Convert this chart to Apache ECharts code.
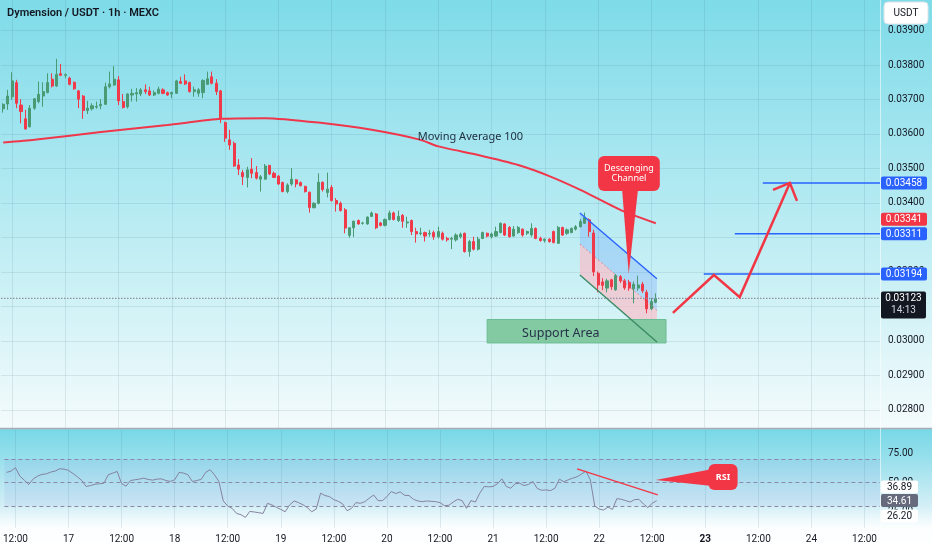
<!DOCTYPE html>
<html><head><meta charset="utf-8">
<script src="https://cdn.jsdelivr.net/npm/echarts@6/dist/echarts.min.js"></script>
<style>html,body{margin:0;padding:0;background:#fff}#c{width:932px;height:550px}</style>
</head><body><div id="c"></div>
<script>
// ---------- time categories (1h bars) ----------
const firstDay = 16, firstHour = 10, hoursShown = 198;
const categories = [];
for (let i = 0; i < hoursShown; i++) {
  const h = firstHour + i, d = firstDay + Math.floor(h / 24), hh = h % 24;
  categories.push(d + ' ' + (hh < 10 ? '0' : '') + hh + ':00');
}
// ---------- candles ----------
const opens = [0.03673,0.03687,0.03708,0.03749,0.03684,0.03644,0.03621,0.03675,0.03694,0.03710,0.03720,0.03759,0.03739,0.03775,0.03770,0.03762,0.03750,0.03725,0.03710,0.03668,0.03673,0.03678,0.03682,0.03686,0.03737,0.03742,0.03757,0.03694,0.03679,0.03713,0.03716,0.03716,0.03728,0.03725,0.03713,0.03718,0.03728,0.03720,0.03716,0.03718,0.03752,0.03754,0.03749,0.03723,0.03718,0.03720,0.03744,0.03766,0.03747,0.03725,0.03633,0.03583,0.03573,0.03510,0.03488,0.03474,0.03498,0.03488,0.03469,0.03469,0.03509,0.03486,0.03478,0.03459,0.03433,0.03455,0.03467,0.03459,0.03448,0.03431,0.03386,0.03399,0.03460,0.03430,0.03445,0.03407,0.03399,0.03380,0.03306,0.03328,0.03349,0.03341,0.03339,0.03361,0.03368,0.03342,0.03335,0.03352,0.03371,0.03349,0.03364,0.03342,0.03349,0.03317,0.03311,0.03314,0.03310,0.03314,0.03302,0.03312,0.03297,0.03295,0.03293,0.03302,0.03312,0.03259,0.03288,0.03266,0.03297,0.03312,0.03302,0.03304,0.03314,0.03339,0.03329,0.03304,0.03314,0.03324,0.03312,0.03307,0.03326,0.03297,0.03291,0.03295,0.03317,0.03283,0.03329,0.03312,0.03314,0.03324,0.03331,0.03341,0.03351,0.03313,0.03196,0.03171,0.03153,0.03177,0.03148,0.03186,0.03174,0.03170,0.03151,0.03153,0.03164,0.03141,0.03093,0.03112];
const highs = [0.03689,0.03728,0.03779,0.03757,0.03701,0.03670,0.03684,0.03704,0.03752,0.03750,0.03776,0.03776,0.03818,0.03803,0.03776,0.03766,0.03752,0.03728,0.03713,0.03696,0.03689,0.03694,0.03701,0.03749,0.03781,0.03797,0.03768,0.03716,0.03718,0.03731,0.03733,0.03733,0.03744,0.03737,0.03726,0.03737,0.03733,0.03723,0.03723,0.03757,0.03766,0.03773,0.03752,0.03737,0.03733,0.03759,0.03781,0.03781,0.03759,0.03728,0.03636,0.03612,0.03578,0.03527,0.03496,0.03505,0.03530,0.03507,0.03481,0.03513,0.03510,0.03491,0.03481,0.03462,0.03457,0.03501,0.03469,0.03462,0.03450,0.03433,0.03402,0.03486,0.03462,0.03488,0.03452,0.03414,0.03404,0.03385,0.03330,0.03349,0.03352,0.03345,0.03361,0.03375,0.03371,0.03345,0.03355,0.03378,0.03375,0.03378,0.03368,0.03360,0.03352,0.03328,0.03328,0.03317,0.03322,0.03320,0.03331,0.03317,0.03302,0.03302,0.03312,0.03314,0.03314,0.03293,0.03302,0.03302,0.03317,0.03314,0.03314,0.03331,0.03343,0.03341,0.03333,0.03333,0.03333,0.03326,0.03320,0.03341,0.03329,0.03302,0.03297,0.03297,0.03320,0.03333,0.03331,0.03326,0.03329,0.03336,0.03353,0.03372,0.03355,0.03322,0.03201,0.03182,0.03180,0.03180,0.03194,0.03191,0.03180,0.03177,0.03172,0.03189,0.03171,0.03148,0.03124,0.03138];
const lows = [0.03662,0.03670,0.03699,0.03675,0.03631,0.03612,0.03619,0.03670,0.03689,0.03679,0.03718,0.03735,0.03737,0.03768,0.03762,0.03741,0.03728,0.03675,0.03644,0.03658,0.03668,0.03673,0.03672,0.03684,0.03732,0.03740,0.03684,0.03674,0.03674,0.03694,0.03694,0.03710,0.03716,0.03710,0.03710,0.03715,0.03715,0.03710,0.03704,0.03716,0.03745,0.03742,0.03720,0.03708,0.03708,0.03704,0.03742,0.03744,0.03713,0.03632,0.03577,0.03554,0.03505,0.03481,0.03452,0.03445,0.03472,0.03468,0.03433,0.03468,0.03481,0.03472,0.03452,0.03431,0.03428,0.03450,0.03445,0.03448,0.03430,0.03372,0.03385,0.03396,0.03433,0.03416,0.03404,0.03375,0.03375,0.03312,0.03299,0.03301,0.03337,0.03337,0.03337,0.03359,0.03324,0.03332,0.03332,0.03349,0.03349,0.03345,0.03328,0.03328,0.03307,0.03285,0.03306,0.03288,0.03302,0.03293,0.03297,0.03291,0.03288,0.03266,0.03288,0.03297,0.03256,0.03244,0.03262,0.03262,0.03295,0.03300,0.03297,0.03302,0.03312,0.03304,0.03300,0.03302,0.03310,0.03302,0.03307,0.03302,0.03295,0.03288,0.03285,0.03285,0.03283,0.03281,0.03304,0.03307,0.03312,0.03320,0.03329,0.03339,0.03302,0.03188,0.03141,0.03147,0.03141,0.03148,0.03145,0.03168,0.03148,0.03145,0.03109,0.03145,0.03139,0.03080,0.03089,0.03109];
const closes = [0.03686,0.03710,0.03754,0.03689,0.03665,0.03615,0.03675,0.03702,0.03715,0.03723,0.03749,0.03739,0.03773,0.03770,0.03772,0.03744,0.03731,0.03701,0.03668,0.03675,0.03682,0.03680,0.03686,0.03737,0.03745,0.03759,0.03696,0.03677,0.03716,0.03718,0.03720,0.03728,0.03723,0.03713,0.03720,0.03730,0.03718,0.03713,0.03720,0.03754,0.03747,0.03745,0.03723,0.03728,0.03728,0.03755,0.03760,0.03747,0.03723,0.03646,0.03588,0.03568,0.03507,0.03498,0.03476,0.03496,0.03486,0.03472,0.03476,0.03507,0.03484,0.03474,0.03455,0.03433,0.03452,0.03469,0.03455,0.03450,0.03433,0.03387,0.03399,0.03460,0.03439,0.03440,0.03407,0.03397,0.03378,0.03327,0.03328,0.03347,0.03339,0.03342,0.03359,0.03371,0.03328,0.03335,0.03352,0.03371,0.03352,0.03361,0.03347,0.03345,0.03317,0.03310,0.03313,0.03304,0.03312,0.03302,0.03317,0.03295,0.03293,0.03297,0.03307,0.03309,0.03259,0.03288,0.03266,0.03295,0.03314,0.03304,0.03310,0.03317,0.03341,0.03307,0.03302,0.03324,0.03329,0.03307,0.03317,0.03326,0.03297,0.03291,0.03295,0.03288,0.03285,0.03329,0.03307,0.03322,0.03326,0.03331,0.03346,0.03358,0.03317,0.03200,0.03162,0.03161,0.03174,0.03157,0.03189,0.03174,0.03154,0.03153,0.03164,0.03162,0.03145,0.03093,0.03114,0.03123];
// ---------- Moving Average 100 (read points: [bar index, price]) ----------
const maPoints = [[0,0.03575],[7,0.03583],[22,0.03606],[37,0.03626],[49,0.03644],[59,0.03646],[71,0.03633],[83,0.03612],[94,0.03583],[98,0.03564],[107,0.03539],[116,0.03510],[123,0.03478],[130,0.03438],[139,0.03380],[147,0.03341]];
// ---------- RSI ----------
const rsi = [58.6,59.7,62.6,55.4,52.0,48.3,52.9,55.4,56.9,57.4,58.9,59.7,61.7,61.4,60.3,57.7,54.9,51.7,46.6,47.4,48.6,48.9,49.4,56.6,58.0,59.4,49.1,46.9,51.7,52.3,52.9,53.7,52.6,52.0,52.9,53.1,51.7,50.9,52.3,58.6,58.0,56.6,50.9,51.7,52.6,58.6,60.9,56.6,50.9,34.3,30.0,28.0,23.7,22.6,20.3,25.4,24.9,24.3,23.7,32.3,30.9,28.9,27.1,25.1,30.9,34.3,32.9,31.1,28.6,25.1,27.4,40.9,38.9,38.0,35.4,34.0,31.7,26.0,28.0,32.9,32.3,33.7,36.6,39.4,34.6,34.6,38.0,42.3,40.6,42.0,39.1,38.9,35.7,34.3,33.7,34.3,34.0,33.7,32.9,30.3,30.6,33.4,35.7,34.6,28.0,34.6,33.4,40.9,46.6,46.3,46.6,48.9,53.1,46.6,45.1,48.9,49.4,47.4,48.3,50.9,44.9,43.4,43.7,43.1,45.1,52.9,50.6,52.3,53.7,54.9,57.1,59.7,52.3,30.0,27.4,26.6,29.1,27.1,36.3,35.7,34.6,33.4,35.4,35.7,31.7,28.6,32.3,34.61];
const rsiBands = [70, 50, 30];
const rsiTicks = [75, 50, 25];
const rsiTags = [36.89, 34.61, 26.20];
const rsiTrend = [[129.0, 61.5], [147.25, 39.4]];
const rsiCalloutBox = [[158.7, 65.7], [165.3, 43.6]];
const rsiCalloutTip = [[146.8, 52.1], [159.6, 61.5], [159.6, 47.0]];
// ---------- price axis / levels ----------
const priceTicks = [0.028,0.029,0.030,0.031,0.032,0.033,0.034,0.035,0.036,0.037,0.038,0.039];
const levels = [0.03458, 0.03311, 0.03194];
const levelStarts = [171.1, 164.8, 157.8];
const maLast = 0.03341;
const lastPrice = 0.03123;
const countdown = '14:13';
// ---------- drawings ----------
const channelUpper = [[129.9, 0.03371], [147.25, 0.03180]];
const channelMid = [[129.9, 0.03281], [147.25, 0.03088]];
const channelLower = [[129.9, 0.03191], [147.25, 0.02997]];
const pinkZone = [[129.9, 0.03281], [147.25, 0.03088], [147.25, 0.03061], [141.6, 0.03061], [129.9, 0.03191]];
const supportArea = [[109.0, 0.030620], [149.3, 0.029940]];
const supportLabelPos = [125.6, 0.03023];
const zigzag = [[150.85, 0.03081], [160.1, 0.03191], [165.9, 0.03127], [177.2, 0.03458]];
const arrowHead = [[173.4, 0.03438], [177.2, 0.03458], [178.8, 0.03406]];
const channelCalloutBox = [[134.0, 0.035362], [147.9, 0.034347]];
const channelCalloutTip = [[139.4, 0.034405], [140.9, 0.03194], [143.0, 0.034405]];
const maLabelPos = [93.4, 0.03592];

const FONT = 'Roboto';
const gridTicks = [];
categories.forEach((c, i) => { const t = c.split(' ')[1]; if (t === '00:00' || t === '12:00') gridTicks.push(i); });
const candleData = opens.map((o, i) => [o, closes[i], lows[i], highs[i]]);

function seg(a, b, color, w, dash) {
  return {type: 'line', shape: {x1: a[0], y1: a[1], x2: b[0], y2: b[1]}, style: {stroke: color, lineWidth: w, lineDash: dash || null}};
}
function txt(x, y, text, font, color, align) {
  const a = align || 'center';
  return {type: 'text', style: {text: text, x: x, y: y, font: font, fill: color, align: a, verticalAlign: 'middle', textAlign: a, textVerticalAlign: 'middle'}};
}
function tag(y, text, bg, fg, w) {
  return [{type: 'rect', shape: {x: 881, y: y - 6.5, width: w, height: 13, r: 2}, style: {fill: bg}},
          txt(881 + w / 2, y + 0.5, text, '10px ' + FONT, fg)];
}

function renderFills(params, api) {
  const P = p => api.coord(p);
  const blueZone = [channelUpper[0], channelUpper[1], channelMid[1], channelMid[0]];
  return {type: 'group', children: [
    {type: 'polygon', shape: {points: blueZone.map(P)}, style: {fill: 'rgba(41,98,255,0.17)'}},
    {type: 'polygon', shape: {points: pinkZone.map(P)}, style: {fill: 'rgba(255,184,196,0.62)'}}
  ]};
}

function renderPriceOver(params, api) {
  const P = p => api.coord(p);
  const k = [];
  // current price dotted line
  const ly = P([0, lastPrice])[1];
  k.push(seg(P([-0.5, lastPrice]), P([hoursShown - 0.5, lastPrice]), '#8a93a6', 1.2, [1.5, 1.5]));
  // support area
  const s0 = P(supportArea[0]), s1 = P(supportArea[1]);
  k.push({type: 'rect', shape: {x: s0[0], y: s0[1], width: s1[0] - s0[0], height: s1[1] - s0[1]}, style: {fill: '#83caa2', stroke: '#6cbd93', lineWidth: 1}});
  const sl = P(supportLabelPos);
  k.push(txt(sl[0], sl[1], 'Support Area', '12.5px "Noto Sans"', '#26324a'));
  // channel lines
  k.push(seg(P(channelMid[0]), P(channelMid[1]), 'rgba(242,54,69,0.5)', 1, [2, 2]));
  k.push(seg(P(channelUpper[0]), P(channelUpper[1]), '#2962ff', 1.4));
  k.push(seg(P(channelLower[0]), P(channelLower[1]), '#3a8a62', 1.4));
  // target levels
  levels.forEach((v, i) => k.push(seg(P([levelStarts[i], v]), P([hoursShown - 0.5, v]), '#2962ff', 1.5)));
  // projected path
  k.push({type: 'polyline', shape: {points: zigzag.map(P)}, style: {stroke: '#f23645', lineWidth: 2.5, fill: null}});
  k.push({type: 'polyline', shape: {points: arrowHead.map(P)}, style: {stroke: '#f23645', lineWidth: 2.5, fill: null}});
  // callout
  const c0 = P(channelCalloutBox[0]), c1 = P(channelCalloutBox[1]);
  k.push({type: 'polygon', shape: {points: channelCalloutTip.map(P)}, style: {fill: '#f23645'}});
  k.push({type: 'rect', shape: {x: c0[0], y: c0[1], width: c1[0] - c0[0], height: c1[1] - c0[1], r: 6}, style: {fill: '#f23645'}});
  const cx = (c0[0] + c1[0]) / 2, cy = (c0[1] + c1[1]) / 2;
  k.push(txt(cx, cy - 5.5, 'Descenging', '9px "Noto Sans"', '#ffffff'));
  k.push(txt(cx, cy + 5, 'Channel', '9px "Noto Sans"', '#ffffff'));
  // MA label
  const m = P(maLabelPos);
  k.push(txt(m[0], m[1], 'Moving Average 100', '11px "Noto Sans"', '#1f2d3d', 'left'));
  // axis tags
  levels.forEach(v => k.push(...tag(P([0, v])[1], v.toFixed(5), '#2962ff', '#ffffff', 46)));
  k.push(...tag(P([0, maLast])[1] - 4, maLast.toFixed(5), '#f23645', '#ffffff', 46));
  k.push({type: 'rect', shape: {x: 881, y: ly - 7, width: 45, height: 27, r: 2}, style: {fill: '#131722'}});
  k.push(txt(903.5, ly + 0.5, lastPrice.toFixed(5), '10px ' + FONT, '#ffffff'));
  k.push(txt(903.5, ly + 12.5, countdown, '10px ' + FONT, '#d1d4dc'));
  return {type: 'group', children: k};
}

function renderRsiOver(params, api) {
  const P = p => api.coord(p);
  const k = [];
  k.push(seg(P(rsiTrend[0]), P(rsiTrend[1]), '#f23645', 1.3));
  k.push({type: 'polygon', shape: {points: rsiCalloutTip.map(P)}, style: {fill: '#f23645'}});
  const b0 = P(rsiCalloutBox[0]), b1 = P(rsiCalloutBox[1]);
  k.push({type: 'rect', shape: {x: b0[0], y: b0[1], width: b1[0] - b0[0], height: b1[1] - b0[1], r: 6}, style: {fill: '#f23645'}});
  k.push(txt((b0[0] + b1[0]) / 2, (b0[1] + b1[1]) / 2, 'RSI', 'bold 9px "Noto Sans"', '#ffffff'));
  const offs = [-11, 0, 5.5];
  const bgs = ['#ffffff', '#676a7c', '#ffffff'];
  const fgs = ['#131722', '#ffffff', '#131722'];
  rsiTags.forEach((v, i) => k.push(...tag(P([0, v])[1] + offs[i], v.toFixed(2), bgs[i], fgs[i], 37)));
  return {type: 'group', children: k};
}

const gridLine = {show: true, lineStyle: {color: 'rgba(60,110,130,0.13)', width: 1}};
const chart = echarts.init(document.getElementById('c'));
chart.setOption({
  animation: false,
  backgroundColor: {type: 'linear', x: 0, y: 0, x2: 0, y2: 1, colorStops: [
    {offset: 0, color: '#7edbe8'}, {offset: 0.25, color: '#a2e5ef'}, {offset: 0.5, color: '#c8f0f5'},
    {offset: 0.776, color: '#f4fbfc'}, {offset: 0.779, color: '#f4fbfc'},
    {offset: 0.781, color: '#78d8e6'}, {offset: 0.83, color: '#96dfec'}, {offset: 0.92, color: '#d4eff6'}, {offset: 0.958, color: '#fbfeff'}, {offset: 1, color: '#ffffff'}]},
  grid: [{left: 1, right: 52, top: 0, height: 428}, {left: 1, right: 52, top: 430, height: 98}],
  xAxis: [
    {type: 'category', gridIndex: 0, data: categories, axisLine: {show: false}, axisTick: {show: false}, axisLabel: {show: false}, splitLine: {show: false}},
    {type: 'category', gridIndex: 1, data: categories, axisLine: {show: false}, axisTick: {show: false}, splitLine: {show: false},
      axisLabel: {interval: (i, v) => { const t = v.split(' ')[1]; return t === '00:00' || t === '12:00'; },
        formatter: v => { const p = v.split(' '); if (p[1] === '00:00') return p[0] === '23' ? '{b|23}' : p[0]; return p[1]; },
        color: '#131722', fontSize: 10, fontFamily: FONT, margin: 6,
        rich: {b: {fontWeight: 'bold', fontSize: 10, fontFamily: FONT, color: '#131722'}}}},
    {type: 'value', gridIndex: 0, min: -0.5, max: hoursShown - 0.5, axisLine: {show: false}, axisTick: {show: false, customValues: gridTicks}, axisLabel: {show: false}, splitLine: gridLine},
    {type: 'value', gridIndex: 1, min: -0.5, max: hoursShown - 0.5, axisLine: {show: false}, axisTick: {show: false, customValues: gridTicks}, axisLabel: {show: false}, splitLine: gridLine}
  ],
  yAxis: [
    {type: 'value', gridIndex: 0, position: 'right', min: 0.027473, max: 0.039886, axisLine: {show: false},
      axisTick: {show: false, customValues: priceTicks},
      axisLabel: {customValues: priceTicks, formatter: v => v.toFixed(5), color: '#131722', fontSize: 10, fontFamily: FONT, margin: 8},
      splitLine: gridLine},
    {type: 'value', gridIndex: 1, position: 'right', min: 11.28, max: 94.68, axisLine: {show: false},
      axisTick: {show: false, customValues: rsiTicks},
      axisLabel: {customValues: rsiTicks, formatter: v => v.toFixed(2), color: '#131722', fontSize: 10, fontFamily: FONT, margin: 8},
      splitLine: {show: false}}
  ],
  graphic: {elements: [
    {type: 'line', z: 100, shape: {x1: 0, y1: 428.5, x2: 932, y2: 428.5}, style: {stroke: '#a9acb5', lineWidth: 1.5}},
    {type: 'line', z: 100, shape: {x1: 880.5, y1: 0, x2: 880.5, y2: 528}, style: {stroke: 'rgba(255,255,255,0.55)', lineWidth: 1}},
    {type: 'text', z: 100, left: 7, top: 8, style: {text: 'Dymension / USDT · 1h · MEXC', font: '600 11px ' + FONT, fill: '#131722'}},
    {type: 'rect', z: 100, shape: {x: 884, y: 2, width: 44, height: 22, r: 4}, style: {fill: '#ffffff', stroke: '#e0e3eb'}},
    {type: 'text', z: 101, x: 906, y: 13.5, style: {text: 'USDT', font: '10px ' + FONT, fill: '#131722', align: 'center', verticalAlign: 'middle', textAlign: 'center', textVerticalAlign: 'middle'}}
  ]},
  series: [
    {type: 'custom', xAxisIndex: 2, yAxisIndex: 0, z: 1, silent: true, renderItem: renderFills, data: [[100, 0.033]]},
    {type: 'candlestick', xAxisIndex: 0, yAxisIndex: 0, z: 2, data: candleData, barWidth: 2.6,
      itemStyle: {color: '#4a9b73', color0: '#f03a4a', borderColor: '#4a9b73', borderColor0: '#f03a4a', borderWidth: 1}},
    {type: 'line', xAxisIndex: 2, yAxisIndex: 0, z: 3, data: maPoints, symbol: 'none', smooth: 0.2, lineStyle: {color: '#f0364a', width: 2}},
    {type: 'custom', xAxisIndex: 2, yAxisIndex: 0, z: 5, silent: true, renderItem: renderPriceOver, data: [[100, 0.033]]},
    {type: 'line', xAxisIndex: 1, yAxisIndex: 1, z: 3, data: rsi, symbol: 'none', lineStyle: {color: '#85839f', width: 1},
      markArea: {silent: true, itemStyle: {color: 'rgba(110,120,225,0.09)'}, data: [[{yAxis: 30}, {yAxis: 70}]]},
      markLine: {silent: true, symbol: 'none', label: {show: false}, lineStyle: {type: [4, 3], color: '#8b8aa5', width: 1}, data: rsiBands.map(v => ({yAxis: v}))}},
    {type: 'custom', xAxisIndex: 3, yAxisIndex: 1, z: 5, silent: true, renderItem: renderRsiOver, data: [[100, 50]]}
  ]
});
</script></body></html>
